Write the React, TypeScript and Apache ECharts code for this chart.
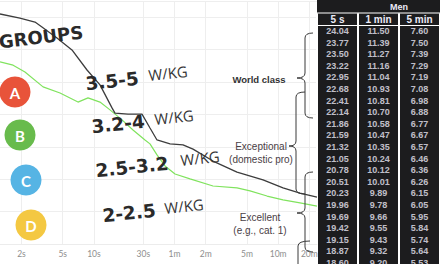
import React, { useEffect, useRef } from "react";
import * as echarts from "echarts";

// Power-duration curves: duration (s) and relative power
const upperCurveSeconds = [1.24, 1.93, 2.7, 3.15, 4.4, 6.14, 8.58, 11.45, 14.95, 15.98, 21.34, 29.12, 34.78, 40.64, 54.28, 72.44, 90.48, 141.1, 240.6, 428.8, 668.7, 975.6, 1423];
const upperCurvePower = [7.1, 6.97, 6.85, 6.7, 6.36, 5.99, 5.37, 4.91, 4.2, 4.04, 4.01, 4.01, 3.58, 3.21, 3.09, 3.06, 2.93, 2.56, 2.22, 1.98, 1.73, 1.57, 1.45];

const lowerCurveSeconds = [1.24, 1.66, 2.16, 3.23, 4.71, 7.02, 8.77, 11.45, 14.3, 18.67, 23.84, 31.12, 34.78, 40.64, 48.56, 60.66, 84.66, 141.1, 240.6, 321.3, 468.9, 668.7, 975.6, 1423];
const lowerCurvePower = [5.62, 5.52, 5.31, 4.85, 4.66, 4.38, 4.51, 4.38, 4.14, 3.83, 3.52, 3.21, 3.09, 2.75, 2.41, 2.16, 2.01, 1.79, 1.73, 1.64, 1.48, 1.36, 1.27, 1.17];

// Duration axis ticks
const tickSeconds = [2, 5, 10, 30, 60, 120, 300, 600, 1200];
const tickLabels = ["2s", "5s", "10s", "30s", "1m", "2m", "5m", "10m", "20m"];

// Men's power profile table (W/kg)
const columnHeaders = ["5 s", "1 min", "5 min"];
const fiveSecond = [24.04, 23.77, 23.5, 23.22, 22.95, 22.68, 22.41, 22.14, 21.86, 21.59, 21.32, 21.05, 20.78, 20.51, 20.23, 19.96, 19.69, 19.42, 19.15, 18.87, 18.6];
const oneMinute = [11.5, 11.39, 11.27, 11.16, 11.04, 10.93, 10.81, 10.7, 10.58, 10.47, 10.35, 10.24, 10.12, 10.01, 9.89, 9.78, 9.66, 9.55, 9.43, 9.32, 9.2];
const fiveMinute = [7.6, 7.5, 7.39, 7.29, 7.19, 7.08, 6.98, 6.88, 6.77, 6.67, 6.57, 6.46, 6.36, 6.26, 6.15, 6.05, 5.95, 5.84, 5.74, 5.64, 5.53];

// Rider groups and power bands
const groupLetters = ["A", "B", "C", "D"];
const groupColors = ["#e8533a", "#68bb4c", "#56b4e4", "#f4c842"];
const bandLabels = ["3.5-5", "3.2-4", "2.5-3.2", "2-2.5"];
const categoryLabels = ["World class", "Exceptional\n(domestic pro)", "Excellent\n(e.g., cat. 1)"];

function bracePath(xr: number, y1: number, y2: number, xs: number, xt: number, ym: number) {
  const r = 5;
  return (
    `M${xr} ${y1} Q${xs} ${y1} ${xs} ${y1 + r} L${xs} ${ym - r} Q${xs} ${ym} ${xt} ${ym} ` +
    `Q${xs} ${ym} ${xs} ${ym + r} L${xs} ${y2 - r} Q${xs} ${y2} ${xr} ${y2} `
  );
}

const braceD =
  bracePath(313, 33, 118, 305, 297, 78) +
  bracePath(305, 92, 194, 296, 289, 146) +
  bracePath(313, 172, 252, 305, 297, 213) +
  bracePath(310, 241, 330, 298, 290, 300);

echarts.graphic.registerShape("braces", echarts.graphic.extendPath(braceD, {}));

const heavyFont = "bold 18.5px 'DejaVu Sans', sans-serif";

export default function App() {
  const ref = useRef<HTMLDivElement>(null);

  useEffect(() => {
    document.body.style.margin = "0";
    if (!ref.current) return;
    const chart = echarts.init(ref.current, undefined, { renderer: "svg" });

    const tickLogs = tickSeconds.map((s) => Math.log10(s));
    const xMin = 0.0935;
    const xMax = 3.1534;

    const rowKeys = fiveSecond.map((_, i) => String(i));
    const tableColumns = [fiveSecond, oneMinute, fiveMinute];
    const tableData: number[][] = [];
    tableColumns.forEach((col, c) => col.forEach((v, r) => tableData.push([c, r, v])));

    const groupCenters = [
      [15, 92],
      [20, 135],
      [26, 180],
      [31, 225],
    ];
    const bandPos = [
      [112, 81, 168, 73],
      [118, 124, 174, 117],
      [132, 167, 200, 158],
      [129, 213, 184, 206],
    ];
    const categoryPos = [
      [259, 79],
      [261, 153],
      [260, 224],
    ];

    const graphics: any[] = [
      {
        type: "rect",
        z: -1,
        shape: { x: 317, y: 0, width: 123, height: 25.2 },
        style: { fill: "#1c1c1e" },
      },
      {
        type: "line",
        z: 1,
        shape: { x1: 317, y1: 13, x2: 440, y2: 13 },
        style: { stroke: "#ffffff", lineWidth: 1 },
      },
      {
        type: "text",
        z: 1,
        x: 399,
        y: 6.5,
        style: {
          text: "Men",
          fill: "#ecebf7",
          font: "bold 9px 'Liberation Sans', Arial, sans-serif",
          align: "center",
          verticalAlign: "middle",
        },
      },
      {
        type: "text",
        z: 10,
        x: 41,
        y: 37,
        rotation: 0.12,
        style: {
          text: "GROUPS",
          fill: "#2a2a2a",
          font: "bold 18px 'DejaVu Sans', sans-serif",
          align: "center",
          verticalAlign: "middle",
        },
      },
      {
        type: "braces",
        z: 10,
        x: 0,
        y: 0,
        style: { stroke: "#3a3a3a", fill: "none", lineWidth: 1 },
      },
    ];

    groupLetters.forEach((letter, i) => {
      const [cx, cy] = groupCenters[i];
      graphics.push({
        type: "circle",
        z: 10,
        shape: { cx, cy, r: 15.5 },
        style: { fill: groupColors[i] },
      });
      graphics.push({
        type: "text",
        z: 11,
        x: cx,
        y: cy + 0.5,
        style: {
          text: letter,
          fill: "#ffffff",
          font: "bold 15px Lato, sans-serif",
          align: "center",
          verticalAlign: "middle",
        },
      });
    });

    bandLabels.forEach((band, i) => {
      const [bx, by, wx, wy] = bandPos[i];
      graphics.push({
        type: "text",
        z: 10,
        x: bx,
        y: by,
        rotation: 0.1,
        style: {
          text: band,
          fill: "#2a2a2a",
          font: heavyFont,
          align: "center",
          verticalAlign: "middle",
        },
      });
      graphics.push({
        type: "text",
        z: 10,
        x: wx,
        y: wy,
        rotation: 0.1,
        style: {
          text: "W/KG",
          fill: "#363636",
          font: "15px 'Open Sans', Lato, sans-serif",
          align: "center",
          verticalAlign: "middle",
        },
      });
    });

    categoryLabels.forEach((label, i) => {
      const [lx, ly] = categoryPos[i];
      graphics.push({
        type: "text",
        z: 10,
        x: lx,
        y: ly,
        style: {
          text: label,
          fill: i === 0 ? "#333333" : "#4a4045",
          font: i === 0 ? "bold 9.5px 'Liberation Sans', Arial, sans-serif" : "10px 'Liberation Sans', Arial, sans-serif",
          lineHeight: 13,
          align: "center",
          verticalAlign: "middle",
        },
      });
    });

    chart.setOption({
      animation: false,
      backgroundColor: "#ffffff",
      grid: [
        { left: 0, right: 123, top: 1, bottom: 20, containLabel: false, outerBoundsMode: "none" },
        {
          left: 317,
          right: 0,
          top: 25.2,
          height: 243.6,
          show: true,
          backgroundColor: "#1c1c1e",
          borderWidth: 0,
          containLabel: false,
          outerBoundsMode: "none",
        },
      ],
      xAxis: [
        {
          type: "value",
          gridIndex: 0,
          min: xMin,
          max: xMax,
          axisLine: { show: true, lineStyle: { color: "#ececec" } },
          axisTick: { show: false, customValues: tickLogs },
          axisLabel: {
            customValues: tickLogs,
            color: "#8e8e8e",
            fontSize: 8.5,
            fontFamily: "Lato, sans-serif",
            margin: 5,
            formatter: (v: number) => {
              const idx = tickLogs.findIndex((t) => Math.abs(t - v) < 1e-6);
              return idx >= 0 ? tickLabels[idx] : "";
            },
          },
          splitLine: { show: true, lineStyle: { color: "#eeeeee", width: 1 } },
        },
        {
          type: "category",
          gridIndex: 1,
          position: "top",
          data: columnHeaders,
          axisLine: { show: true, lineStyle: { color: "#ffffff", width: 1 } },
          axisTick: { show: true, length: 12, lineStyle: { color: "#ffffff", width: 2 } },
          axisLabel: {
            color: "#ecebf7",
            fontSize: 10,
            fontWeight: "bold",
            fontFamily: "'Liberation Sans', Arial, sans-serif",
            margin: 1,
          },
          splitLine: { show: true, lineStyle: { color: "#ffffff", width: 2 } },
        },
      ],
      yAxis: [
        {
          type: "value",
          gridIndex: 0,
          min: 0,
          max: 7.5,
          interval: 1,
          axisLabel: { show: false },
          axisLine: { show: false },
          axisTick: { show: false },
          splitLine: { show: true, lineStyle: { color: "#eeeeee", width: 1 } },
        },
        {
          type: "category",
          gridIndex: 1,
          inverse: true,
          data: rowKeys,
          show: false,
        },
      ],
      series: [
        {
          type: "line",
          xAxisIndex: 0,
          yAxisIndex: 0,
          data: upperCurveSeconds.map((s, i) => [Math.log10(s), upperCurvePower[i]]),
          symbol: "none",
          lineStyle: { color: "#3d3d3d", width: 1.3 },
          z: 3,
        },
        {
          type: "line",
          xAxisIndex: 0,
          yAxisIndex: 0,
          data: lowerCurveSeconds.map((s, i) => [Math.log10(s), lowerCurvePower[i]]),
          symbol: "none",
          lineStyle: { color: "#80e35e", width: 1.2 },
          z: 2,
        },
        {
          type: "scatter",
          xAxisIndex: 1,
          yAxisIndex: 1,
          data: tableData,
          symbolSize: 1,
          silent: true,
          itemStyle: { color: "rgba(0,0,0,0)" },
          label: {
            show: true,
            position: "inside",
            formatter: (p: any) => p.value[2].toFixed(2),
            color: "#ecebf7",
            fontSize: 9,
            fontWeight: "bold",
            fontFamily: "'Liberation Sans', Arial, sans-serif",
          },
        },
      ],
      graphic: graphics,
    });

    return () => chart.dispose();
  }, []);

  return <div ref={ref} style={{ width: 440, height: 264 }} />;
}
